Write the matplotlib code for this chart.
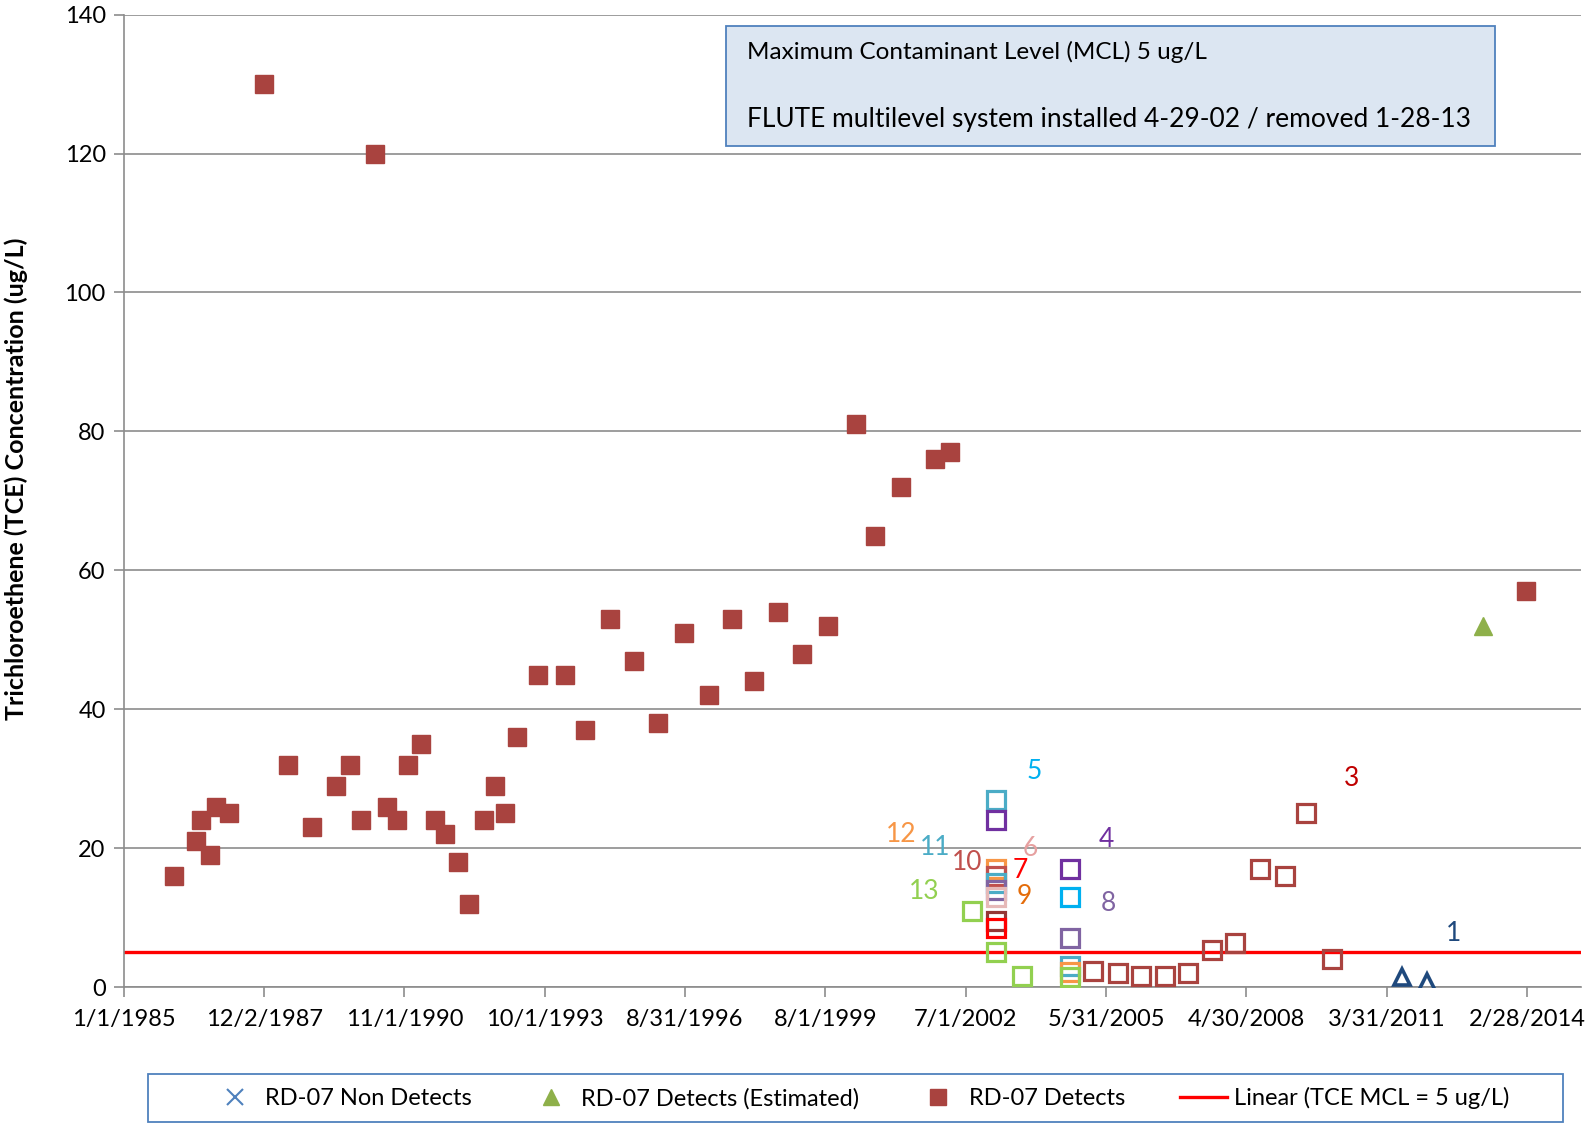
import datetime as dt
import matplotlib
matplotlib.use('Agg')
import matplotlib.pyplot as plt
from matplotlib.patches import Rectangle
from matplotlib.lines import Line2D

plt.rcParams['font.family'] = ['Lato', 'DejaVu Sans']

# RD-07 detects (solid squares)
det_dates = ['1986-01-20', '1986-07-01', '1986-08-07', '1986-10-15', '1986-12-01', '1987-03-10',
             '1987-11-28', '1988-06-03', '1988-12-01', '1989-05-30', '1989-09-12', '1989-12-05',
             '1990-03-25', '1990-06-24', '1990-09-09', '1990-12-01', '1991-03-07', '1991-06-21',
             '1991-09-05', '1991-12-09', '1992-03-03', '1992-06-24', '1992-09-20', '1992-12-05',
             '1993-03-07', '1993-08-07', '1994-03-03', '1994-08-04', '1995-02-06', '1995-08-07',
             '1996-02-10', '1996-08-22', '1997-02-28', '1997-08-25', '1998-02-02', '1998-08-07',
             '1999-02-06', '1999-08-19', '2000-03-21', '2000-08-15', '2001-02-24', '2001-11-10',
             '2002-02-28', '2014-02-17']
det_vals = [16, 21, 24, 19, 26, 25,
            130, 32, 23, 29, 32, 24,
            120, 26, 24, 32, 35, 24,
            22, 18, 12, 24, 29, 25,
            36, 45, 45, 37, 53, 47,
            38, 51, 42, 53, 44, 54,
            48, 52, 81, 65, 72, 76,
            77, 57]

# RD-07 detects (estimated)
est_dates = ['2013-04-01']
est_vals = [52]

# FLUTE ports (hollow squares): date, value, colour
port_dates = ['2003-02-17', '2003-02-17', '2003-02-17', '2003-02-17', '2003-02-17', '2003-02-17',
              '2003-02-17', '2003-02-17', '2003-02-17', '2003-02-17', '2002-08-15', '2003-08-29',
              '2004-09-01', '2004-09-01', '2004-09-01', '2004-09-01', '2004-09-01', '2004-09-01']
port_vals = [27, 24, 17, 16, 15, 14, 13, 9.5, 8.5, 5, 11, 1.6,
             17, 13, 7, 3, 2.2, 1.5]
port_cols = ['#4bacc6', '#7030a0', '#f79646', '#c0504d', '#4bacc6', '#8064a2', '#e6b9b8',
             '#953735', '#ff0000', '#92d050', '#92d050', '#92d050',
             '#7030a0', '#00b0f0', '#8064a2', '#4bacc6', '#f79646', '#92d050']

# port 3 (brown hollow squares)
p3_dates = ['2005-02-24', '2005-08-29', '2006-02-20', '2006-08-25', '2007-02-10', '2007-08-15',
            '2008-02-06', '2008-08-10', '2009-02-20', '2009-07-25', '2010-02-10']
p3_vals = [2.3, 2.0, 1.6, 1.6, 2.0, 5.4, 6.3, 17, 16, 25, 4]

# port 1 (triangles)
p1_dates = ['2011-07-23', '2012-02-02']
p1_vals = [1.5, 0.7]

# port labels
lab_text = ['5', '12', '11', '6', '4', '10', '7', '13', '9', '8', '3', '1']
lab_dates = ['2003-12-05', '2001-02-24', '2001-11-10', '2003-11-05', '2005-06-05', '2002-07-08',
             '2003-08-22', '2001-08-18', '2003-09-20', '2005-06-20', '2010-07-05', '2012-08-20']
lab_vals = [31.1, 21.9, 20.1, 19.9, 21.2, 18.0, 16.8, 13.7, 13.0, 12.1, 30.0, 7.7]
lab_cols = ['#00b0f0', '#f79646', '#4bacc6', '#e6a0a0', '#7030a0', '#c0504d', '#ff0000',
            '#92d050', '#e46c0a', '#8064a2', '#c00000', '#1f497d']

tick_labels = ['1/1/1985', '12/2/1987', '11/1/1990', '10/1/1993', '8/31/1996', '8/1/1999',
               '7/1/2002', '5/31/2005', '4/30/2008', '3/31/2011', '2/28/2014']

MCL = 5


def d(lst):
    return [dt.datetime.strptime(s, '%Y-%m-%d') for s in lst]


brown = '#a9433f'
fig = plt.figure(figsize=(15.91, 11.23), dpi=100)
ax = fig.add_axes([0.0778, 0.121, 0.9158, 0.866])

start = dt.datetime(1985, 1, 1)
ticks = [start + dt.timedelta(days=1065 * i) for i in range(11)]
xmin, xmax = start, start + dt.timedelta(days=11058)

ax.axhline(MCL, color='#ff0000', lw=2.4, zorder=2)
ax.plot(d(det_dates), det_vals, 's', ms=12.5, color=brown, mec=brown, zorder=3)
ax.plot(d(est_dates), est_vals, '^', ms=12.5, color='#8eb04a', zorder=3)
for x, y, c in zip(d(port_dates), port_vals, port_cols):
    ax.plot([x], [y], 's', ms=13.5, mfc='none', mec=c, mew=2.3, zorder=3)
ax.plot(d(p3_dates), p3_vals, 's', ms=13.5, mfc='none', mec=brown, mew=2.3, zorder=3)
ax.plot(d(p1_dates), p1_vals, '^', ms=12, mfc='none', mec='#1f497d', mew=2.6, zorder=3)

for t, x, y, c in zip(lab_text, d(lab_dates), lab_vals, lab_cols):
    ax.text(x, y, t, color=c, fontsize=19, ha='center', va='center')

ax.set_xlim(xmin, xmax)
ax.set_ylim(0, 140)
ax.set_yticks(range(0, 141, 20))
ax.set_xticks(ticks)
ax.set_xticklabels(tick_labels)
ax.grid(axis='y', color='#8c8c8c', lw=1.2)
ax.set_axisbelow(True)
for s in ['top', 'right']:
    ax.spines[s].set_visible(False)
for s in ['left', 'bottom']:
    ax.spines[s].set_color('#8c8c8c')
    ax.spines[s].set_linewidth(1.2)
ax.tick_params(axis='both', colors='#8c8c8c', labelcolor='black', labelsize=17, length=7, width=1.2)
ax.tick_params(axis='x', pad=9)
ax.tick_params(axis='y', pad=6)
ax.set_ylabel('Trichloroethene (TCE) Concentration (ug/L)', fontsize=18, fontweight='bold')
ax.yaxis.set_label_coords(-0.0655, 0.523)

# note box
ax.add_patch(Rectangle((0.4136, 0.8644), 0.5272, 0.1241, transform=ax.transAxes,
                       facecolor='#dce6f2', edgecolor='#4f81bd', lw=1.3, zorder=4))
ax.text(0.4276, 0.9614, 'Maximum Contaminant Level (MCL) 5 ug/L', transform=ax.transAxes,
        fontsize=17.5, va='center', zorder=5)
ax.text(0.4276, 0.8926, 'FLUTE multilevel system installed 4-29-02 / removed 1-28-13',
        transform=ax.transAxes, fontsize=19, va='center', zorder=5)

# legend with its own frame
fig.add_artist(Rectangle((0.0931, 0.0012), 0.889, 0.0422, transform=fig.transFigure,
                         facecolor='white', edgecolor='#4f81bd', lw=1.3))
handles = [Line2D([], [], ls='none', marker='x', ms=12, mew=1.5, color='#4f81bd'),
           Line2D([], [], ls='none', marker='^', ms=12, color='#8eb04a'),
           Line2D([], [], ls='none', marker='s', ms=12, color=brown),
           Line2D([], [], color='#ff0000', lw=2.4)]
names = ['RD-07 Non Detects', 'RD-07 Detects (Estimated)', 'RD-07 Detects', 'Linear (TCE MCL = 5 ug/L)']
fig.legend(handles, names, loc='center', ncol=4, bbox_to_anchor=(0.5408, 0.0222),
           fontsize=17, frameon=False, handlelength=2.0, handletextpad=0.3,
           columnspacing=2.33, borderpad=0, borderaxespad=0)

fig.savefig('out.png', dpi=100)
